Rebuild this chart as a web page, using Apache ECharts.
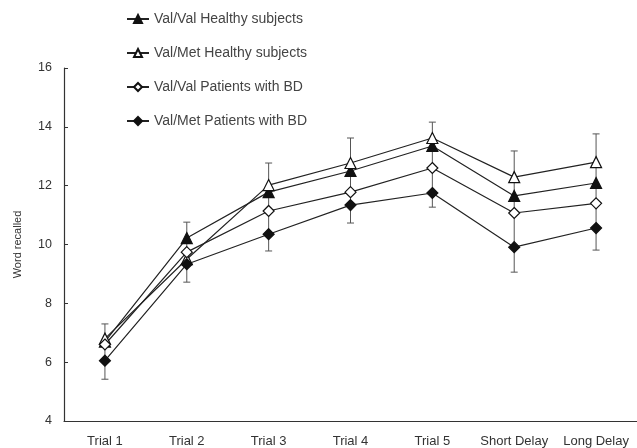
<!DOCTYPE html>
<html>
<head>
<meta charset="utf-8">
<script src="https://cdn.jsdelivr.net/npm/echarts@6/dist/echarts.min.js"></script>
<style>html,body{margin:0;padding:0;background:#fff}#c{width:637px;height:448px}</style>
</head>
<body>
<div id="c"></div>
<script>
var categories = ['Trial 1','Trial 2','Trial 3','Trial 4','Trial 5','Short Delay','Long Delay'];
var valValHealthy = [6.7, 10.22, 11.78, 12.5, 13.35, 11.65, 12.09];
var valMetHealthy = [6.8, 9.5, 12.02, 12.77, 13.62, 12.29, 12.8];
var valValBD = [6.6, 9.74, 11.14, 11.78, 12.6, 11.07, 11.4];
var valMetBD = [6.05, 9.33, 10.35, 11.34, 11.75, 9.91, 10.56];
var whiskerHigh = [7.3, 10.76, 12.77, 13.62, 14.16, 13.18, 13.76];
var whiskerLow = [5.42, 8.72, 9.78, 10.73, 11.27, 9.06, 9.81];
var yTicks = [4, 6, 8, 10, 12, 14, 16];

var chart = echarts.init(document.getElementById('c'));
var font = 'Liberation Sans, Arial, sans-serif';
function lineSeries(name, data, symbol, filled, size) {
  return {
    name: name, type: 'line', data: data, symbol: symbol, symbolSize: size,
    lineStyle: {color: '#222', width: 1.2},
    itemStyle: {color: filled ? '#111' : '#fff', borderColor: '#111', borderWidth: 1.2},
    z: 3
  };
}
var errData = categories.map(function (c, i) { return [i, whiskerLow[i], whiskerHigh[i]]; });
chart.setOption({
  animation: false,
  backgroundColor: '#fff',
  textStyle: {fontFamily: font},
  grid: {left: 64, top: 68, width: 575, height: 353},
  legend: {
    orient: 'vertical', left: 121, top: 7, itemWidth: 22, itemHeight: 10, itemGap: 20,
    textStyle: {fontSize: 14, color: '#444', fontFamily: font},
    data: ['Val/Val Healthy subjects', 'Val/Met Healthy subjects', 'Val/Val Patients with BD', 'Val/Met Patients with BD']
  },
  xAxis: {
    type: 'category', data: categories, boundaryGap: true,
    axisLine: {lineStyle: {color: '#333', width: 1.2}},
    axisTick: {inside: true, length: 4, lineStyle: {color: '#333'}},
    axisLabel: {fontSize: 13, color: '#333', margin: 14, interval: 0}
  },
  yAxis: {
    type: 'value', min: yTicks[0], max: yTicks[yTicks.length - 1], interval: 2,
    name: 'Word recalled', nameLocation: 'middle', nameGap: 41, nameRotate: 90,
    nameTextStyle: {fontSize: 11, color: '#333'},
    splitLine: {show: false},
    axisLine: {show: true, lineStyle: {color: '#333', width: 1.2}},
    axisTick: {show: true, inside: true, length: 4, lineStyle: {color: '#333'}},
    axisLabel: {fontSize: 12.5, color: '#333', margin: 12}
  },
  series: [
    {
      type: 'custom', name: 'err', data: errData, z: 1, silent: true,
      renderItem: function (params, api) {
        var i = api.value(0);
        var lo = api.coord([i, api.value(1)]);
        var hi = api.coord([i, api.value(2)]);
        var w = 3.5;
        var st = {stroke: '#555', lineWidth: 1};
        return {type: 'group', children: [
          {type: 'line', shape: {x1: lo[0], y1: lo[1], x2: hi[0], y2: hi[1]}, style: st},
          {type: 'line', shape: {x1: lo[0] - w, y1: lo[1], x2: lo[0] + w, y2: lo[1]}, style: st},
          {type: 'line', shape: {x1: hi[0] - w, y1: hi[1], x2: hi[0] + w, y2: hi[1]}, style: st}
        ]};
      },
      encode: {x: 0, y: [1, 2]}
    },
    lineSeries('Val/Val Healthy subjects', valValHealthy, 'triangle', true, 11),
    lineSeries('Val/Met Healthy subjects', valMetHealthy, 'triangle', false, 11),
    lineSeries('Val/Val Patients with BD', valValBD, 'diamond', false, 11),
    lineSeries('Val/Met Patients with BD', valMetBD, 'diamond', true, 11)
  ]
});
</script>
</body>
</html>
